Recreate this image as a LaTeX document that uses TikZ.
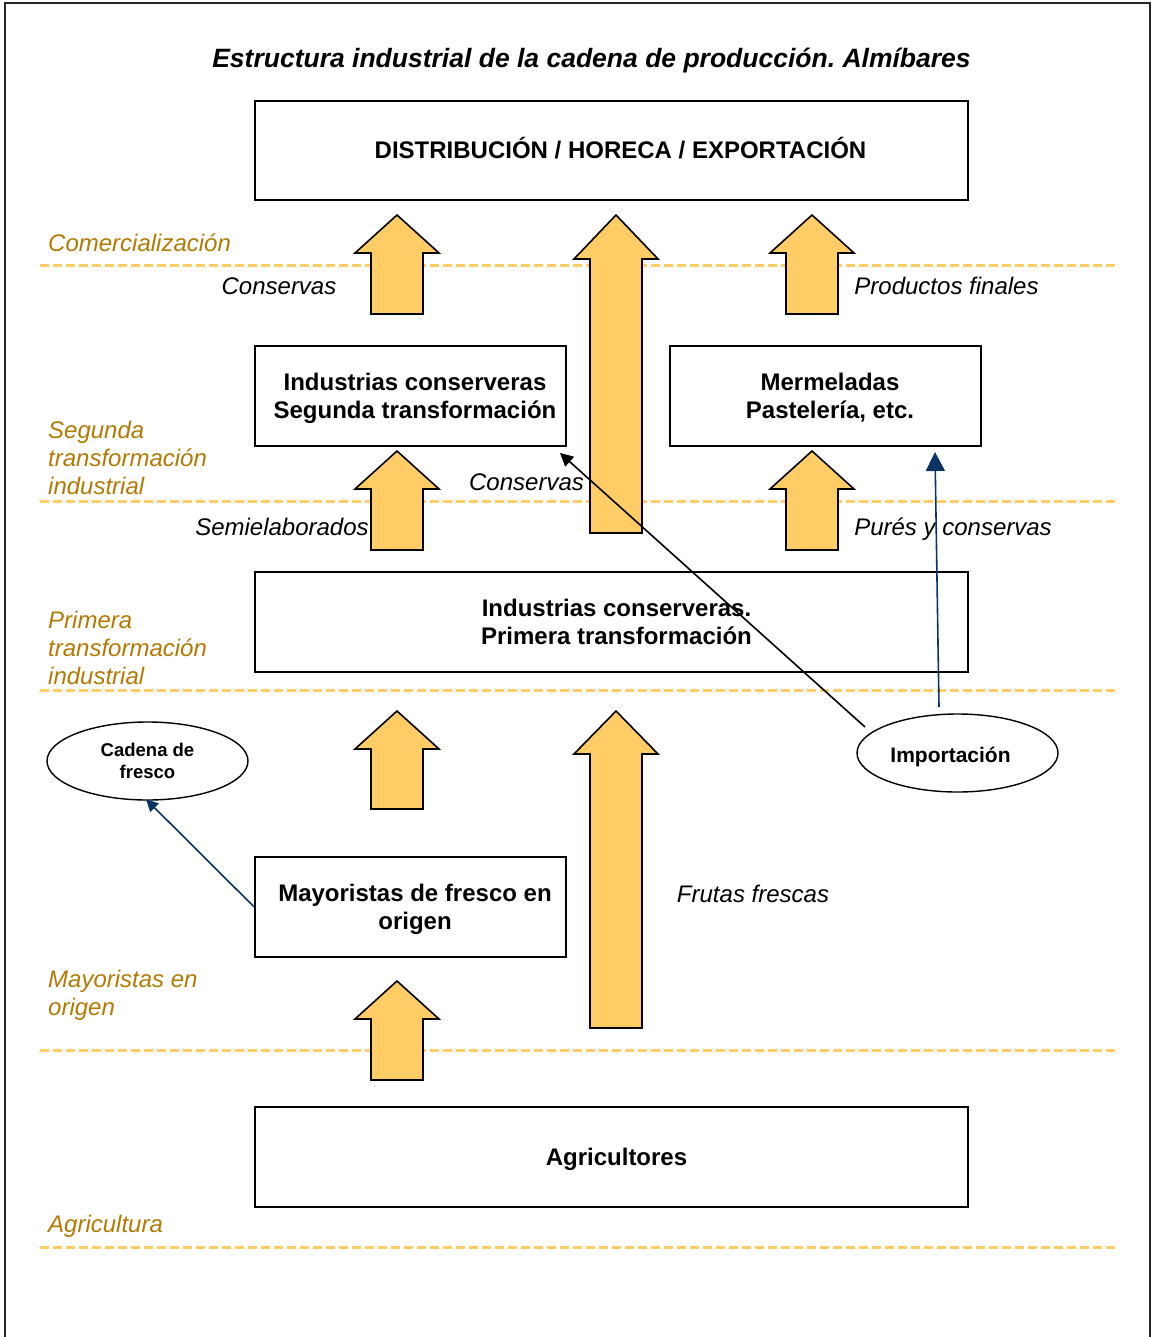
\documentclass[tikz,border=0pt]{standalone}
\usepackage{fontspec}
\setmainfont{Liberation Sans}
\usetikzlibrary{shapes.geometric,arrows.meta}
\definecolor{arrfill}{RGB}{255,204,102}
\definecolor{dashcol}{RGB}{255,204,102}
\definecolor{lblcol}{RGB}{178,122,4}
\definecolor{navyline}{RGB}{10,52,100}
\newcommand\blockup[4]{%
  \draw[blockarrow] (#1-26,#4) -- (#1-26,#3) -- (#1-42,#3) -- (#1,#2) -- (#1+42,#3) -- (#1+26,#3) -- (#1+26,#4) -- cycle;}
\begin{document}
\frenchspacing
\begin{tikzpicture}[x=1pt,y=-1pt,
  box/.style={draw,line width=1.6pt,rectangle,inner sep=0pt},
  boxtext/.style={inner sep=0pt,align=center,font=\fontsize{24}{28}\selectfont\bfseries},
  oval/.style={draw,line width=1.4pt,ellipse,inner sep=0pt,align=center,
    minimum width=201pt,minimum height=78pt},
  levellabel/.style={inner sep=0pt,align=left,text=lblcol,
    font=\fontsize{24}{28}\selectfont\itshape},
  flowlabel/.style={inner sep=0pt,font=\fontsize{24}{28}\selectfont\itshape},
  levelline/.style={draw=dashcol,line width=3pt,dash pattern=on 9pt off 4pt},
  blockarrow/.style={draw=black,line width=1.6pt,fill=arrfill,line join=miter},
  navyarrow/.style={draw=navyline,line width=1.6pt,-{Triangle[length=19pt,width=19pt]}},
  thinnavy/.style={draw=navyline,line width=1.6pt,-{Triangle[length=12pt,width=12pt]}},
  blackarrow/.style={draw=black,line width=1.6pt,-{Triangle[length=13pt,width=13pt]}}
]
\useasboundingbox (0,0) rectangle (1152,1337);
% outer frame
\draw[line width=1.8pt,black!85] (5,1337) -- (5,3) -- (1150,3) -- (1150,1337);

% title
\node[anchor=base,inner sep=0pt,font=\fontsize{26.5}{30}\selectfont\bfseries\itshape] (title) at (591.5,67.5) {Estructura industrial de la cadena de producción. Almíbares};

% level lines
\path[levelline] (40,266) -- (1115,266);
\path[levelline] (40,501) -- (1115,501);
\path[levelline] (40,690) -- (1115,690);
\path[levelline] (40,1050) -- (1115,1050);
\path[levelline] (40,1247) -- (1115,1247);

% level labels
\node[levellabel,anchor=base west] (lcom) at (48,251.5) {Comercialización};
\node[levellabel,anchor=north west] (lseg) at (48,421) {Segunda\\transformación\\industrial};
\node[levellabel,anchor=north west] (lpri) at (48,610.5) {Primera\\transformación\\industrial};
\node[levellabel,anchor=north west] (lmay) at (48,970) {Mayoristas en\\origen};
\node[levellabel,anchor=base west] (lagr) at (48,1232.5) {Agricultura};

% boxes
\node[box,minimum width=713pt,minimum height=99pt] (dist) at (611.5,150.5) {};
\node[box,minimum width=311pt,minimum height=100pt] (seg) at (410.5,396) {};
\node[box,minimum width=311pt,minimum height=100pt] (mer) at (825.5,396) {};
\node[box,minimum width=713pt,minimum height=100pt] (pri) at (611.5,622) {};
\node[box,minimum width=311pt,minimum height=100pt] (may) at (410.5,907) {};
\node[box,minimum width=713pt,minimum height=100pt] (agr) at (611.5,1157) {};

% box texts
\node[boxtext] (distT) at (620.5,148.5) {DISTRIBUCIÓN / HORECA / EXPORTACIÓN};
\node[boxtext] (segT) at (415,398) {Industrias conserveras\\Segunda transformación};
\node[boxtext] (merT) at (830,398) {Mermeladas\\Pastelería, etc.};
\node[boxtext] (priT) at (616.5,622) {Industrias conserveras.\\Primera transformación};
\node[boxtext] (mayT) at (415,909) {Mayoristas de fresco en\\origen};
\node[boxtext] (agrT) at (616.5,1159) {Agricultores};

% ovals
\node[oval,font=\fontsize{18.5}{22}\selectfont\bfseries] (cad) at (147.5,761) {Cadena de\\fresco};
\node[oval] (imp) at (957.5,753) {};
\node[inner sep=0pt,font=\fontsize{21}{25}\selectfont\bfseries] (impT) at (950.5,757) {Importación};

% block arrows
\blockup{397}{215}{253}{314}
\blockup{812}{215}{253}{314}
\blockup{616}{215}{259}{533}
\blockup{397}{451}{489}{550}
\blockup{812}{451}{489}{550}
\blockup{397}{711}{749}{809}
\blockup{616}{711}{754}{1028}
\blockup{397}{981}{1019}{1080}

% flow labels
\node[flowlabel,anchor=base] (fcons1) at (279,294.5) {Conservas};
\node[flowlabel,anchor=base] (fprod) at (946.5,294.5) {Productos finales};
\node[flowlabel,anchor=base] (fcons2) at (526.5,490.5) {Conservas};
\node[flowlabel,anchor=base] (fsemi) at (282,535.5) {Semielaborados};
\node[flowlabel,anchor=base] (fpure) at (953,535.5) {Purés y conservas};
\node[flowlabel,anchor=base] (ffrut) at (753,902.5) {Frutas frescas};

% connectors
\coordinate (impnw) at (865,727);
\coordinate (segtip) at (560,453);
\coordinate (imptop) at (939,707);
\coordinate (mertip) at (935,452);
\draw[blackarrow] (impnw) -- (segtip);
\draw[navyarrow] (imptop) -- (mertip);
\draw[thinnavy,shorten >=-2pt] (may.west) -- (cad.south);
\end{tikzpicture}
\end{document}
